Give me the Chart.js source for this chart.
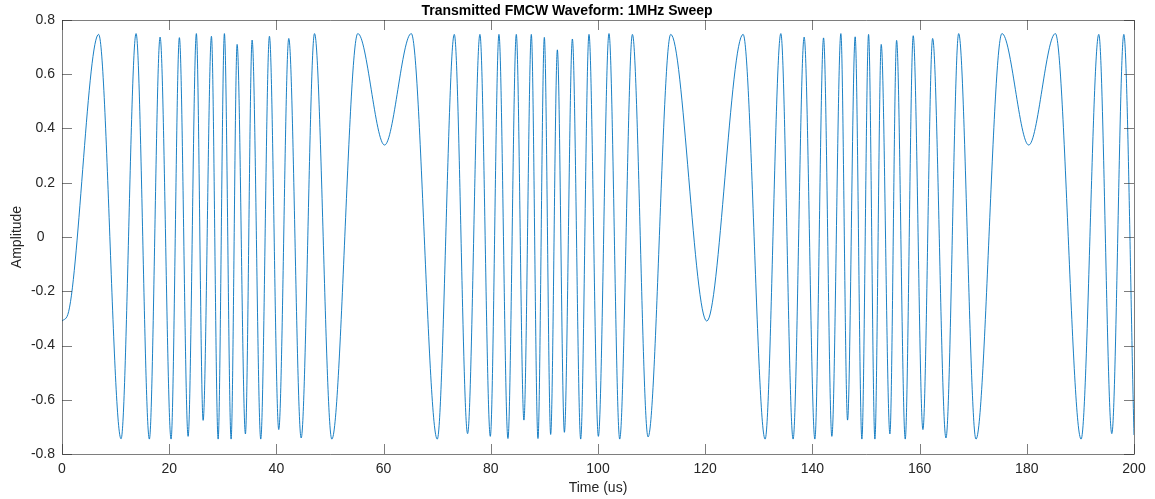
<!DOCTYPE html>
<html>
<head>
<meta charset="utf-8">
<script src="https://cdn.jsdelivr.net/npm/chart.js@4"></script>
<style>
  html, body { margin: 0; padding: 0; background: #fff; }
  #wrap { width: 1155px; height: 499px; }
</style>
</head>
<body>
<div id="wrap"><canvas id="fmcwChart" width="1155" height="499"></canvas></div>
<script>
const times = [
  0, 1.24, 6.83, 11.02, 13.82, 16.30, 18.30, 20.35, 21.90, 23.53, 25.07, 26.33,
  27.88, 29.13, 30.30, 31.55, 32.67, 34.22, 35.47, 37.08, 38.70, 40.44, 42.31,
  44.62, 47.11, 50.34, 55.19, 60.18, 65.16, 70.01, 73.19, 75.67, 77.97, 79.91,
  81.52, 83.20, 84.76, 86.18, 87.56, 88.80, 89.99, 91.17, 92.42, 93.73, 95.22,
  96.77, 98.32, 100.07, 102.05, 104.05, 106.42, 109.34, 113.57, 120.29, 127.07,
  131.18, 134.11, 136.40, 138.46, 140.46, 142.08, 143.63, 145.31, 146.56, 147.98,
  149.23, 150.48, 151.66, 152.84, 154.46, 155.71, 157.32, 158.81, 160.62, 162.43,
  164.92, 167.29, 170.52, 175.37, 180.36, 185.33, 190.13, 193.43, 195.86, 198.10,
  200
];
const amplitudes = [
  -0.31, -0.275, 0.747, -0.744, 0.75, -0.745, 0.737, -0.745, 0.735, -0.735, 0.75, -0.676,
  0.74, -0.745, 0.75, -0.745, 0.71, -0.726, 0.726, -0.745, 0.74, -0.71, 0.732,
  -0.741, 0.75, -0.745, 0.75, 0.339, 0.75, -0.745, 0.747, -0.725, 0.747, -0.735,
  0.747, -0.743, 0.747, -0.675, 0.747, -0.743, 0.736, -0.728, 0.69, -0.72, 0.73,
  -0.745, 0.747, -0.735, 0.75, -0.745, 0.747, -0.737, 0.747, -0.31, 0.747,
  -0.745, 0.75, -0.745, 0.737, -0.745, 0.734, -0.735, 0.75, -0.675, 0.738,
  -0.745, 0.747, -0.745, 0.71, -0.726, 0.725, -0.745, 0.742, -0.71, 0.732,
  -0.741, 0.75, -0.745, 0.75, 0.339, 0.75, -0.745, 0.747, -0.725, 0.747,
  -0.73
];

const xTicks = [0, 20, 40, 60, 80, 100, 120, 140, 160, 180, 200];
const yTicks = [-0.8, -0.6, -0.4, -0.2, 0, 0.2, 0.4, 0.6, 0.8];

const points = times.map((t, i) => ({ x: t, y: amplitudes[i] }));

const axisColor = '#262626';
const font = 'Liberation Sans, Arial, Helvetica, sans-serif';

// matlab style box with ticks pointing inwards
const boxPlugin = {
  id: 'matlabBox',
  afterDatasetsDraw(chart) {
    const ctx = chart.ctx;
    const a = chart.chartArea;
    const xs = chart.scales.x, ys = chart.scales.y;
    const len = 10;
    ctx.save();
    ctx.strokeStyle = axisColor;
    ctx.lineWidth = 0.6;
    ctx.beginPath();
    ctx.rect(Math.round(a.left) + 0.5, Math.round(a.top) + 0.5,
             Math.round(a.right - a.left), Math.round(a.bottom - a.top));
    xTicks.forEach(v => {
      const px = Math.round(xs.getPixelForValue(v)) + 0.5;
      ctx.moveTo(px, a.bottom); ctx.lineTo(px, a.bottom - len);
      ctx.moveTo(px, a.top); ctx.lineTo(px, a.top + len);
    });
    yTicks.forEach(v => {
      const py = Math.round(ys.getPixelForValue(v)) + 0.5;
      ctx.moveTo(a.left, py); ctx.lineTo(a.left + len, py);
      ctx.moveTo(a.right, py); ctx.lineTo(a.right - len, py);
    });
    ctx.stroke();
    ctx.restore();
  }
};

new Chart(document.getElementById('fmcwChart').getContext('2d'), {
  type: 'line',
  data: {
    datasets: [{
      data: points,
      borderColor: '#0072BD',
      borderWidth: 0.9,
      pointRadius: 0,
      cubicInterpolationMode: 'monotone',
      fill: false
    }]
  },
  options: {
    responsive: false,
    animation: false,
    events: [],
    layout: { padding: { top: 0, right: 21, bottom: 0, left: 0 } },
    plugins: {
      legend: { display: false },
      tooltip: { enabled: false },
      title: {
        display: true,
        text: 'Transmitted FMCW Waveform: 1MHz Sweep',
        color: '#000',
        font: { family: font, size: 14, weight: 'bold' },
        padding: { top: 3, bottom: 0.2 }
      }
    },
    scales: {
      x: {
        type: 'linear',
        min: 0,
        max: 200,
        afterFit: s => { s.height = 45; },
        afterBuildTicks: s => { s.ticks = xTicks.map(v => ({ value: v })); },
        grid: { display: false, drawTicks: false },
        border: { display: false },
        ticks: { color: axisColor, padding: 7, maxRotation: 0, font: { family: font, size: 14 } },
        title: {
          display: true,
          text: 'Time (us)',
          color: axisColor,
          font: { family: font, size: 14 },
          padding: { top: 0, bottom: 2 }
        }
      },
      y: {
        type: 'linear',
        min: -0.8,
        max: 0.8,
        afterFit: s => { s.width = 62; },
        afterBuildTicks: s => { s.ticks = yTicks.map(v => ({ value: v })); },
        grid: { display: false, drawTicks: false },
        border: { display: false },
        ticks: {
          color: axisColor,
          padding: 7,
          font: { family: font, size: 14 },
          callback: v => (Math.abs(v) < 1e-9 ? '0  \u2009' : String(Math.round(v * 10) / 10))
        },
        title: {
          display: true,
          text: 'Amplitude',
          color: axisColor,
          font: { family: font, size: 14 },
          padding: { top: 9, bottom: 0 }
        }
      }
    }
  },
  plugins: [boxPlugin]
});
</script>
</body>
</html>
